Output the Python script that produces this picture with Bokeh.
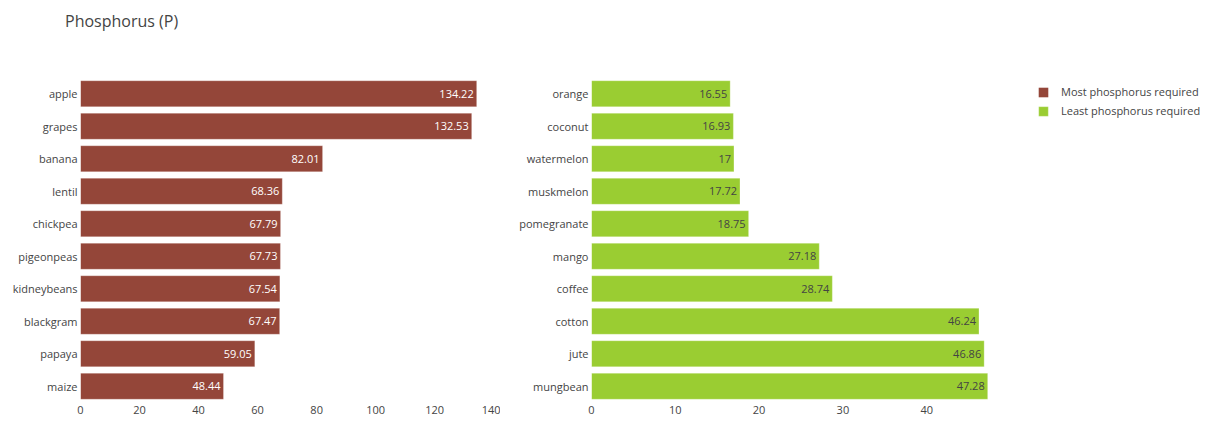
from bokeh.plotting import figure
from bokeh.layouts import row, column
from bokeh.models import ColumnDataSource, FactorRange, Range1d, Legend, LegendItem, FixedTicker, Div
from bokeh.core.properties import value
from bokeh.embed import file_html
from bokeh.resources import INLINE

title_text = "Phosphorus (P)"
most_crops = ["apple", "grapes", "banana", "lentil", "chickpea", "pigeonpeas",
              "kidneybeans", "blackgram", "papaya", "maize"]
most_vals = [134.22, 132.53, 82.01, 68.36, 67.79, 67.73, 67.54, 67.47, 59.05, 48.44]
least_crops = ["orange", "coconut", "watermelon", "muskmelon", "pomegranate", "mango",
               "coffee", "cotton", "jute", "mungbean"]
least_vals = [16.55, 16.93, 17.0, 17.72, 18.75, 27.18, 28.74, 46.24, 46.86, 47.28]
left_ticks = [0, 20, 40, 60, 80, 100, 120, 140]
right_ticks = [0, 10, 20, 30, 40]
legend_labels = ["Most phosphorus required", "Least phosphorus required"]

FONT = "Open Sans"
FS = "11px"
BROWN = "#944639"
GREEN = "#9acd32"
TXT = "#444444"
TITLE_H = 40


def fmt(v):
    s = ("%.2f" % v).rstrip("0").rstrip(".")
    return s


def make(crops, vals, color, txtcolor, ticks, left_border, right_border):
    src = ColumnDataSource(dict(y=crops, x=vals, t=[fmt(v) for v in vals]))
    p = figure(title=None, y_range=FactorRange(*reversed(crops)),
               x_range=Range1d(0, max(vals) * 1.05),
               frame_width=416, frame_height=325,
               min_border_left=left_border, min_border_right=right_border,
               min_border_top=77 - TITLE_H, min_border_bottom=19,
               output_backend="svg", toolbar_location=None)
    r = p.hbar(y="y", right="x", left=0, height=0.8, source=src,
               fill_color=color, line_color="white", line_alpha=0.5, line_width=0.5)
    p.text(x="x", y="y", text="t", source=src, x_offset=-3,
           text_align="right", text_baseline="middle",
           text_font=value(FONT), text_font_size=FS, text_color=txtcolor)
    p.xgrid.visible = False
    p.ygrid.visible = False
    p.outline_line_color = None
    for ax in (p.xaxis[0], p.yaxis[0]):
        ax.axis_line_color = None
        ax.major_tick_line_color = None
        ax.minor_tick_line_color = None
        ax.major_tick_out = 0
        ax.major_tick_in = 0
        ax.major_label_text_font = FONT
        ax.major_label_text_font_size = FS
        ax.major_label_text_color = TXT
        ax.major_label_standoff = 3
    p.xaxis[0].ticker = FixedTicker(ticks=ticks)
    p.xaxis[0].major_label_standoff = 3
    return p, r


p1, r1 = make(most_crops, most_vals, BROWN, "white", left_ticks, 80, 4)
p2, r2 = make(least_crops, least_vals, GREEN, TXT, right_ticks, 91, 199)

title_div = Div(text=title_text, width=600, height=TITLE_H, margin=0,
                styles={"font-family": FONT, "font-size": "16px", "color": TXT,
                        "padding-left": "65px", "padding-top": "10px"})

# legend proxy for the brown series inside the right figure (zero-width bar, nothing visible)
proxy = p2.hbar(y=[least_crops[0]], right=[0], left=0, height=0.8,
                fill_color=BROWN, line_color=None)

legend = Legend(items=[LegendItem(label=legend_labels[0], renderers=[proxy]),
                       LegendItem(label=legend_labels[1], renderers=[r2])],
                location=(30, 284), orientation="vertical",
                glyph_width=12, glyph_height=12, label_height=15,
                spacing=4, padding=0, margin=0, label_standoff=12,
                label_text_font=FONT, label_text_font_size=FS,
                label_text_color=TXT, border_line_color=None,
                background_fill_alpha=0)
p2.add_layout(legend, "right")

layout = column(title_div, row(p1, p2))
open("out.html", "w").write(file_html(layout, INLINE))
